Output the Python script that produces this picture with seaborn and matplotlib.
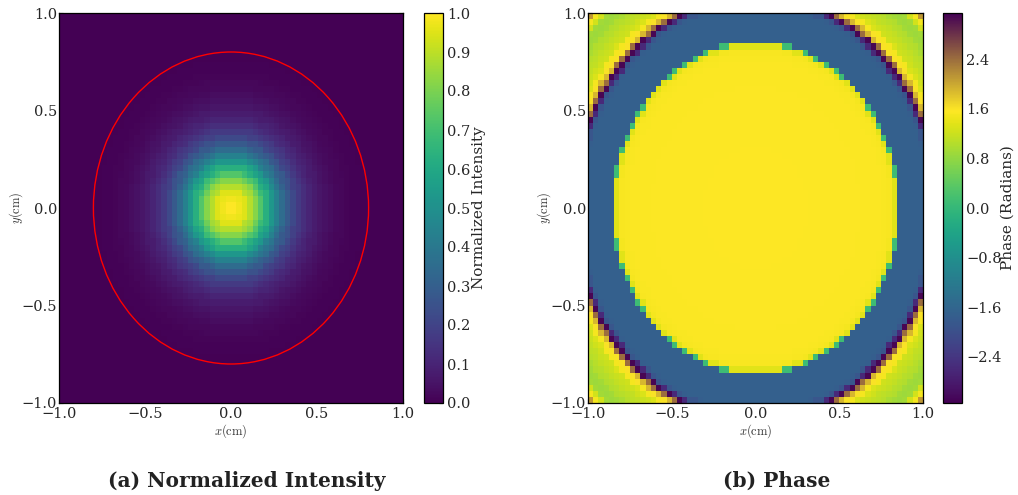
import numpy as np
import matplotlib
matplotlib.use('Agg')
import matplotlib.pyplot as plt
from matplotlib.colors import LinearSegmentedColormap
from matplotlib.patches import Circle
import seaborn as sns

# radial profiles, one value per ring of width 1/64 cm
intensity_by_ring = [
    1.0, 1.0, 0.99, 0.98, 0.965, 0.95, 0.92, 0.89, 0.86, 0.82,
    0.78, 0.73, 0.68, 0.63, 0.58, 0.53, 0.48, 0.435, 0.39, 0.35,
    0.31, 0.28, 0.25, 0.22, 0.195, 0.17, 0.15, 0.13, 0.115, 0.1,
    0.088, 0.077, 0.067, 0.058, 0.05, 0.043, 0.037, 0.032, 0.027, 0.023,
    0.019, 0.016, 0.013, 0.011, 0.009, 0.007, 0.006, 0.005, 0.004, 0.003,
    0.002, 0.002, 0.001, 0.001, 0.0, 0.0, 0.0, 0.0, 0.0, 0.0,
    0.0, 0.0, 0.0, 0.0, 0.0, 0.0, 0.0, 0.0, 0.0, 0.0,
    0.0, 0.0, 0.0, 0.0, 0.0, 0.0, 0.0, 0.0, 0.0, 0.0,
    0.0, 0.0, 0.0, 0.0, 0.0, 0.0, 0.0, 0.0, 0.0, 0.0,
]
phase_by_ring = [
    1.56, 1.56, 1.56, 1.56, 1.56, 1.56, 1.56, 1.56, 1.56, 1.56,
    1.56, 1.56, 1.56, 1.56, 1.56, 1.56, 1.56, 1.56, 1.56, 1.56,
    1.55, 1.55, 1.55, 1.55, 1.55, 1.55, 1.55, 1.55, 1.55, 1.55,
    1.55, 1.55, 1.55, 1.55, 1.55, 1.55, 1.55, 1.55, 1.55, 1.55,
    1.54, 1.54, 1.54, 1.54, 1.54, 1.54, 1.54, 1.54, 1.54, 1.53,
    1.53, 1.52, 1.5, 1.35, 0.1, -1.7, -1.7, -1.7, -1.7, -1.7,
    -1.7, -1.7, -1.7, -1.7, -1.7, -1.7, -1.75, -1.9, -2.6, 3.1,
    2.4, 1.9, 1.6, 1.5, 1.3, 1.22, 1.18, 1.14, 1.1, 1.06,
    1.02, 0.98, 0.92, 0.88, 0.92, 1.05, 1.25, 1.5, 1.7, 2.1,
]

axis_ticks = [-1.0, -0.5, 0.0, 0.5, 1.0]
axis_tick_labels = ['\u22121.0', '\u22120.5', '0.0', '0.5', '1.0']
intensity_ticks = [0.0, 0.1, 0.2, 0.3, 0.4, 0.5, 0.6, 0.7, 0.8, 0.9, 1.0]
phase_ticks = [-2.4, -1.6, -0.8, 0.0, 0.8, 1.6, 2.4]
circle_radius = 0.8
grid_size = 64

sns.set_style('white')
plt.rcParams['font.family'] = ['DejaVu Serif']
plt.rcParams['mathtext.fontset'] = 'cm'

# phase colormap: viridis up to yellow (3/4 of the range), then back to the dark purple
viridis_part = plt.get_cmap('viridis')(np.linspace(0, 1, 192))
phase_cmap = LinearSegmentedColormap.from_list(
    'phase_wrap',
    list(zip(np.linspace(0, 0.75, 192), viridis_part)) + [(1.0, '#440154')],
    N=512,
)

# cell centres -> ring index -> value
centres = (np.arange(grid_size) + 0.5) / (grid_size / 2) - 1
xx, yy = np.meshgrid(centres, centres)
ring = np.floor(np.hypot(xx, yy) * 64).astype(int)
intensity = np.array(intensity_by_ring)[ring]
phase = np.array(phase_by_ring)[ring]

W, H = 1018, 495
fig = plt.figure(figsize=(W / 100, H / 100), dpi=100)


def box(left, top, right, bottom):
    return [left / W, 1 - bottom / H, (right - left) / W, (bottom - top) / H]


def draw_panel(values, ax_box, cbar_box, cmap, vmin, vmax, ticks, cbar_labels, cbar_title, ylab_x, cbar_lab_x):
    ax = fig.add_axes(box(*ax_box))
    cax = fig.add_axes(box(*cbar_box))
    sns.heatmap(values, ax=ax, cbar_ax=cax, cmap=cmap, vmin=vmin, vmax=vmax,
                xticklabels=False, yticklabels=False)

    # data -1..1 onto the cell index axis of the heatmap
    pos = [(t + 1) * grid_size / 2 for t in axis_ticks]
    ax.set_xticks(pos)
    ax.set_xticklabels(axis_tick_labels, fontsize=10.5)
    ax.set_yticks(pos)
    ax.set_yticklabels(axis_tick_labels[::-1], fontsize=10.5)
    ax.tick_params(direction='in', length=3, width=0.8, top=True, right=True,
                   left=True, bottom=True, color='black')
    ax.tick_params(axis='x', pad=3)
    ax.tick_params(axis='y', pad=1.5)
    ax.set_xlabel(r'$x\mathrm{(cm)}$', fontsize=9, color='#333333')
    ax.set_ylabel(r'$y\mathrm{(cm)}$', fontsize=9, color='#333333')
    ax.xaxis.set_label_coords(0.5, -0.05)
    ax.yaxis.set_label_coords(ylab_x, 0.5)
    for s in ax.spines.values():
        s.set_visible(True)
        s.set_color('black')
        s.set_linewidth(0.9)

    cbar = ax.collections[0].colorbar
    cbar.set_ticks(ticks)
    cbar.set_ticklabels(cbar_labels, fontsize=10.5)
    cbar.ax.tick_params(direction='in', length=3, width=0.8, pad=3, right=True, color='black')
    cbar.outline.set_visible(True)
    cbar.outline.set_edgecolor('black')
    cbar.outline.set_linewidth(0.9)
    cbar.set_label(cbar_title, fontsize=11)
    cbar.ax.yaxis.set_label_coords(cbar_lab_x, 0.5)
    return ax


def tick_text(vals):
    return [f'{v:.1f}'.replace('-', '\u2212') for v in vals]


ax1 = draw_panel(intensity, (59, 13, 403, 403), (424, 13, 443, 403), 'viridis',
                 0.0, 1.0, intensity_ticks, tick_text(intensity_ticks), 'Normalized Intensity',
                 -0.10, 2.5)
ax1.add_patch(Circle((grid_size / 2, grid_size / 2), circle_radius * grid_size / 2,
                     fill=False, edgecolor='red', linewidth=1))

draw_panel(phase, (588, 13, 923, 403), (943, 13, 962, 403), phase_cmap,
           -np.pi, np.pi, phase_ticks, tick_text(phase_ticks), 'Phase (Radians)',
           -0.105, 3.05)

fig.text(247 / W, 1 - 481 / H, '(a) Normalized Intensity', fontweight='bold',
         fontsize=14.5, ha='center', va='center', color='#222222')
fig.text(777 / W, 1 - 481 / H, '(b) Phase', fontweight='bold',
         fontsize=14.5, ha='center', va='center', color='#222222')

fig.savefig('out.png', dpi=100)
